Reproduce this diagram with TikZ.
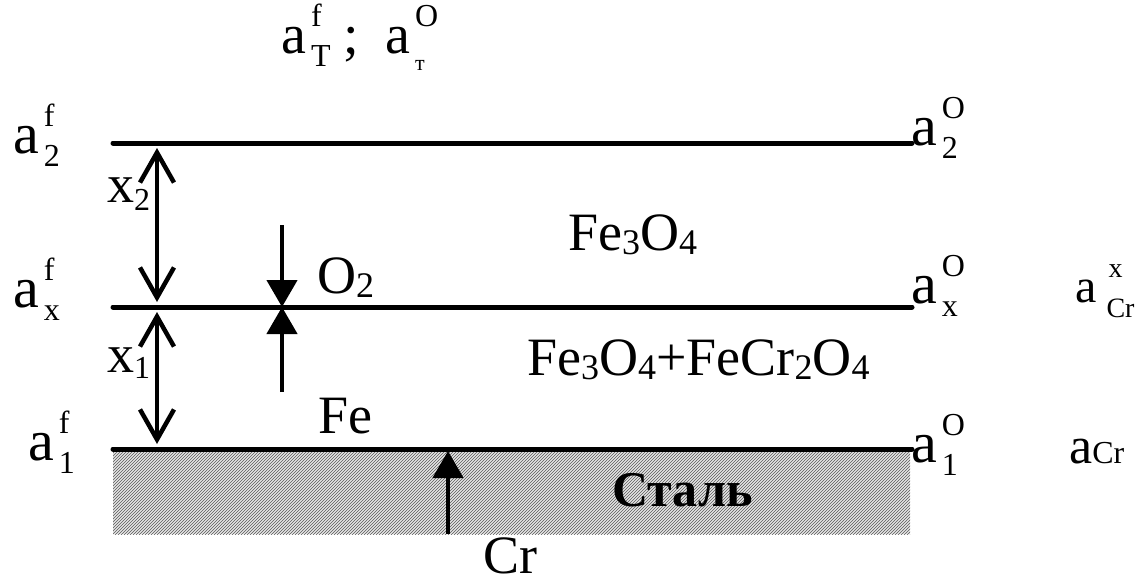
\documentclass[tikz,border=0pt]{standalone}
\usepackage{fontspec}
\setmainfont{Liberation Serif}
\usetikzlibrary{arrows.meta,patterns}

\newcommand\supsize{\fontsize{32}{32}\selectfont}
% activity symbol: a with superscript and subscript
\newcommand\actv[2]{a\hspace{5pt}\rlap{\raisebox{27pt}{\supsize #1}}\raisebox{-13pt}{\supsize #2}}
\newcommand\chsub[1]{\raisebox{-4pt}{\fontsize{36}{36}\selectfont #1}}

\begin{document}
\begin{tikzpicture}[
  x=1pt, y=-1pt,
  font=\fontsize{54}{54}\selectfont,
  layer/.style={line width=5pt, line cap=round},
  gap/.style={{Straight Barb[length=30pt,width=34pt]}-{Straight Barb[length=30pt,width=34pt]}, line width=4.5pt},
  flux/.style={-{Triangle[length=27pt,width=30pt]}, line width=4.5pt},
  act/.style={anchor=base west, inner sep=0pt, font=\fontsize{58}{58}\selectfont},
  lbl/.style={anchor=base west, inner sep=0pt},
]
\useasboundingbox (0,0) rectangle (1141,581);

% Steel substrate
\fill[gray!20] (113,449) rectangle (910,534);
\fill[pattern=north east lines, pattern color=gray!70!black] (113,449) rectangle (910,534);

% Interfaces
\coordinate (l2w) at (113,143);
\coordinate (l2e) at (912,143);
\coordinate (lxw) at (113,307);
\coordinate (lxe) at (912,307);
\coordinate (l1w) at (113,449);
\coordinate (l1e) at (912,449);
\draw[layer] (l2w) -- (l2e);
\draw[layer] (lxw) -- (lxe);
\draw[layer] (l1w) -- (l1e);

% Thicknesses
\coordinate (x2t) at (157,148);
\coordinate (x2b) at (157,302);
\coordinate (x1t) at (157,312);
\coordinate (x1b) at (157,444);
\draw[gap] (x2t) -- (x2b);
\draw[gap] (x1t) -- (x1b);
\node[lbl] (x2) at (107,202) {x\raisebox{-8pt}{\supsize 2}};
\node[lbl] (x1) at (107,372) {x\raisebox{-6pt}{\supsize 1}};

% Fluxes
\coordinate (o2s) at (282,225);
\coordinate (fes) at (282,392);
\coordinate (mid) at (282,307);
\draw[flux] (o2s) -- (mid);
\draw[flux] (fes) -- (mid);
\coordinate (crs) at (448,534);
\coordinate (cre) at (448,451);
\draw[flux] (crs) -- (cre);

% Species and phases
\node[lbl] (o2) at (317,293) {O\chsub{2}};
\node[lbl] (fe) at (318,433) {Fe};
\node[lbl] (cr) at (483,573) {Cr};
\node[lbl] (mag) at (568,250) {Fe\chsub{3}O\chsub{4}};
\node[lbl] (mix) at (527,375) {Fe\chsub{3}O\chsub{4}+FeCr\chsub{2}O\chsub{4}};
\node[lbl, font=\fontsize{50}{50}\selectfont\bfseries] (steel) at (612,506) {Сталь};

% Activities
\node[act, font=\fontsize{56}{56}\selectfont] (top) at (281,53) {\actv{f}{T}\hspace{13pt};\hspace{26pt}\actv{O}{\raisebox{-4pt}{\fontsize{22}{22}\selectfont т}}};
\node[act] (a2f) at (13,153) {\actv{f}{2}};
\node[act] (axf) at (13,307) {\actv{f}{x}};
\node[act] (a1f) at (28,460) {\actv{f}{1}};
\node[act] (a2o) at (911,145) {\actv{O}{2}};
\node[act] (axo) at (911,303) {\actv{O}{x}};
\node[act] (a1o) at (911,462) {\actv{O}{1}};
\node[act, font=\fontsize{48}{48}\selectfont] (acrx) at (1075,302) {a\hspace{10pt}\rlap{\hspace{2pt}\raisebox{25pt}{\fontsize{28}{28}\selectfont x}}\raisebox{-15pt}{\fontsize{28}{28}\selectfont Cr}};
\node[act, font=\fontsize{52}{52}\selectfont] (acr) at (1069,463) {a{\fontsize{32}{32}\selectfont Cr}};
\end{tikzpicture}
\end{document}
